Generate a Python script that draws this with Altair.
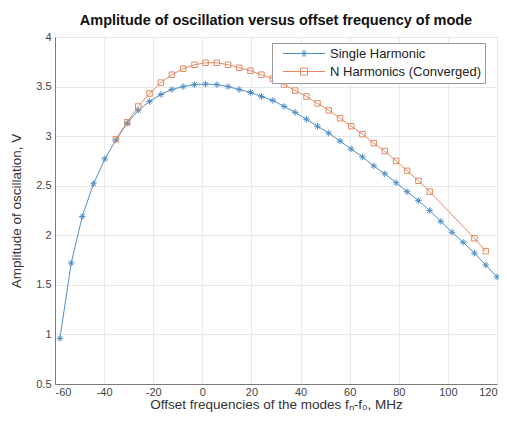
import altair as alt
import pandas as pd

# ---- data ----
freq_single = [-58.0, -53.4, -48.9, -44.3, -39.7, -35.2, -30.6, -26.1, -21.5, -16.9,
               -12.4, -7.8, -3.2, 1.3, 5.9, 10.5, 15.0, 19.6, 24.1, 28.7,
               33.3, 37.8, 42.4, 46.9, 51.5, 56.1, 60.6, 65.2, 69.8, 74.3,
               78.9, 83.4, 88.0, 92.6, 97.1, 101.7, 106.2, 110.8, 115.4, 120.0]
amp_single = [0.96, 1.72, 2.19, 2.52, 2.77, 2.96, 3.13, 3.26, 3.35, 3.42,
              3.47, 3.50, 3.52, 3.525, 3.52, 3.50, 3.47, 3.44, 3.40, 3.36,
              3.30, 3.24, 3.17, 3.10, 3.03, 2.95, 2.87, 2.79, 2.70, 2.62,
              2.53, 2.44, 2.35, 2.25, 2.14, 2.03, 1.93, 1.82, 1.70, 1.58]

freq_multi = [-35.2, -30.6, -26.1, -21.5, -16.9, -12.4, -7.8, -3.2, 1.3, 5.9,
              10.5, 15.0, 19.6, 24.1, 28.7, 33.3, 37.8, 42.4, 46.9, 51.5,
              56.1, 60.6, 65.2, 69.8, 74.3, 78.9, 83.4, 88.0, 92.6, 110.8, 115.4]
amp_multi = [2.97, 3.14, 3.30, 3.43, 3.54, 3.62, 3.68, 3.72, 3.74, 3.74,
             3.72, 3.69, 3.66, 3.62, 3.58, 3.52, 3.46, 3.40, 3.33, 3.26,
             3.18, 3.10, 3.02, 2.93, 2.85, 2.75, 2.65, 2.55, 2.44, 1.97, 1.84]

series_names = ["Single Harmonic", "N Harmonics (Converged)"]
x_ticks = [-60, -40, -20, 0, 20, 40, 60, 80, 100, 120]
y_ticks = [0.5, 1, 1.5, 2, 2.5, 3, 3.5, 4]

BLUE = "#4f8fc6"
ORANGE = "#e38a62"

ASTERISK = "M-1,0L1,0M0,-1L0,1M-0.7,-0.7L0.7,0.7M-0.7,0.7L0.7,-0.7"
SQUARE = "M-1,-1L1,-1L1,1L-1,1Z"
# legend symbols: line sample with marker in the middle (units of 3.5px)
LEG_ASTER = ("M0.15,0L12.15,0"
             "M5.15,0L7.15,0M6.15,-1L6.15,1M5.45,-0.7L6.85,0.7M5.45,0.7L6.85,-0.7")
LEG_SQUARE = "M0.15,0L12.15,0M5.15,-1L7.15,-1L7.15,1L5.15,1Z"

df_s = pd.DataFrame({"f": freq_single, "a": amp_single, "series": series_names[0]})
df_m = pd.DataFrame({"f": freq_multi, "a": amp_multi, "series": series_names[1]})
df_all = pd.concat([df_s, df_m], ignore_index=True)

xenc = alt.X("f:Q", scale=alt.Scale(domain=[-60, 120], nice=False),
             axis=alt.Axis(values=x_ticks, labelExpr="replace(format(datum.value, 'd'), '−', '-')",
                           title="Offset frequencies of the modes fₙ-f₀, MHz"))
yenc = alt.Y("a:Q", scale=alt.Scale(domain=[0.5, 4], nice=False),
             axis=alt.Axis(values=y_ticks, format="~g", title="Amplitude of oscillation, V"))

line_s = alt.Chart(df_s).mark_line(color=BLUE, strokeWidth=1).encode(x=xenc, y=yenc)
pts_s = alt.Chart(df_s).mark_point(shape=ASTERISK, color=BLUE, size=42, filled=False,
                                   strokeWidth=1, opacity=1).encode(x="f:Q", y="a:Q")
line_m = alt.Chart(df_m).mark_line(color=ORANGE, strokeWidth=1).encode(x="f:Q", y="a:Q")
pts_m = alt.Chart(df_m).mark_point(shape=SQUARE, color=ORANGE, size=30, filled=False,
                                   strokeWidth=1, opacity=1).encode(x="f:Q", y="a:Q")

legend_layer = alt.Chart(df_all).mark_point(opacity=0, filled=False, size=49).encode(
    x="f:Q", y="a:Q",
    color=alt.Color("series:N", scale=alt.Scale(domain=series_names, range=[BLUE, ORANGE]),
                    legend=alt.Legend(title=None, orient="none", legendX=217, legendY=6,
                                      fillColor="white", strokeColor="#9a9a9a",
                                      padding=4, rowPadding=4, labelFontSize=13,
                                      labelOffset=41, symbolSize=49, symbolStrokeWidth=1,
                                      symbolOpacity=1, labelColor="#222",
                                      labelFont="Liberation Sans", labelLimit=300,
                                      cornerRadius=0)),
    shape=alt.Shape("series:N", scale=alt.Scale(domain=series_names,
                                                range=[LEG_ASTER, LEG_SQUARE])),
)

chart = alt.layer(line_s, line_m, pts_s, pts_m, legend_layer).properties(
    width=442, height=347,
    title=alt.Title("Amplitude of oscillation versus offset frequency of mode",
                    fontSize=14.5, fontWeight="bold", font="Liberation Sans",
                    color="#111", offset=3, anchor="middle"),
    autosize=alt.AutoSizeParams(type="none"),
    padding={"left": 47, "top": 29, "right": 2, "bottom": 31},
).configure_view(stroke="#7a7a7a", strokeWidth=1).configure_axis(
    labelFont="Liberation Sans", titleFont="Liberation Sans",
    labelFontSize=11, titleFontSize=13.5, titleFontWeight="normal",
    labelColor="#444", titleColor="#333",
    domainColor="#7a7a7a", tickSize=0,
    gridColor="#e9e9e9", gridWidth=1,
).configure_axisX(titlePadding=0, labelPadding=2).configure_axisY(titlePadding=12, labelPadding=4)

chart.save("out.html", embed_options={"renderer": "svg", "actions": False})
